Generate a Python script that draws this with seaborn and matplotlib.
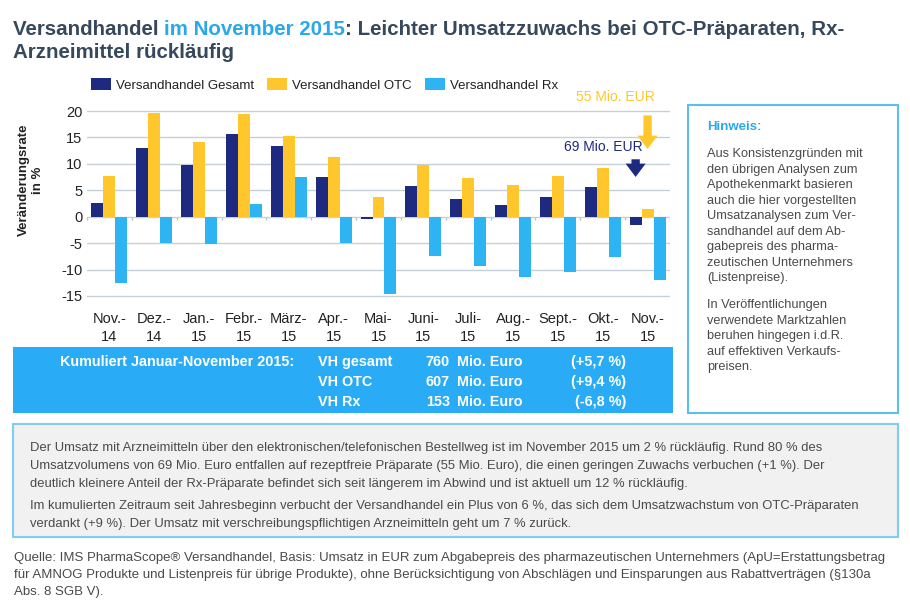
import matplotlib
matplotlib.use("Agg")
import matplotlib.pyplot as plt
import pandas as pd
import seaborn as sns
from matplotlib.patches import Rectangle

# Monatsdaten: Veränderungsrate in %
months = ["Nov.-\n14", "Dez.-\n14", "Jan.-\n15", "Febr.-\n15", "März-\n15", "Apr.-\n15",
          "Mai-\n15", "Juni-\n15", "Juli-\n15", "Aug.-\n15", "Sept.-\n15", "Okt.-\n15", "Nov.-\n15"]
gesamt = [2.6, 13.1, 9.7, 15.6, 13.4, 7.5, -0.4, 5.8, 3.3, 2.3, 3.7, 5.6, -1.5]
otc = [7.8, 19.6, 14.2, 19.4, 15.2, 11.3, 3.7, 9.8, 7.3, 6.0, 7.7, 9.2, 1.5]
rx = [-12.5, -4.9, -5.2, 2.5, 7.5, -4.9, -14.6, -7.5, -9.4, -11.5, -10.4, -7.7, -12.0]
series = ["Versandhandel Gesamt", "Versandhandel OTC", "Versandhandel Rx"]
yticks = [-15, -10, -5, 0, 5, 10, 15, 20]

# Kumulierte Werte Jan-Nov 2015
cum_labels = ["VH gesamt", "VH OTC", "VH Rx"]
cum_values = [760, 607, 153]
cum_changes = ["(+5,7 %)", "(+9,4 %)", "(-6,8 %)"]

# Umsatz im aktuellen Monat
current_eur = {"Versandhandel Gesamt": "69 Mio. EUR",
               "Versandhandel OTC": "55 Mio. EUR",
               "Versandhandel Rx": "14 Mio. EUR"}

NAVY = "#1e2a80"
YELLOW = "#ffc72c"
LIGHTBLUE = "#2fb4f3"
TITLE = "#36485c"
TITLE_BLUE = "#2aa8ec"
GREY_TXT = "#4a4a4a"

df = pd.DataFrame({
    "Monat": months * 3,
    "Serie": [series[0]] * len(months) + [series[1]] * len(months) + [series[2]] * len(months),
    "Wert": gesamt + otc + rx,
})

sns.set_theme(style="white")
plt.rcParams["font.family"] = ["Liberation Sans", "DejaVu Sans"]
plt.rcParams["axes.unicode_minus"] = False

W, H = 910, 609
fig = plt.figure(figsize=(W / 100, H / 100), dpi=100)
fig.patch.set_facecolor("white")


def fx(px):
    return px / W


def fy(py):
    return 1 - py / H


ax = fig.add_axes([fx(87), fy(306.5), fx(670 - 87), (306.5 - 105.8) / H])
sns.barplot(data=df, x="Monat", y="Wert", hue="Serie", hue_order=series,
            palette=[NAVY, YELLOW, LIGHTBLUE], saturation=1, width=0.8,
            linewidth=0, ax=ax)
handles, labels = ax.get_legend_handles_labels()
ax.get_legend().remove()

ax.set_ylim(-17, 21)
ax.set_xlim(-0.5, len(months) - 0.5)
ax.set_yticks(yticks)
ax.yaxis.grid(True, color="#c6d0d8", lw=1)
ax.set_axisbelow(True)
for s in ax.spines.values():
    s.set_visible(False)
ax.tick_params(axis="both", length=0, labelsize=10.5, colors="#222222")
ax.tick_params(axis="x", pad=4)
for lab in ax.get_xticklabels():
    lab.set_linespacing(1.35)
ax.set_xlabel("")
ax.set_ylabel("")
ax.set_facecolor("white")

# kleine Trennstriche an der Nulllinie zwischen den Monaten
ax.vlines([i - 0.5 for i in range(len(months) + 1)], -0.6, 0, color="#b8c2ca", lw=1, zorder=0.5)

fig.text(fx(31), fy(180), "Veränderungsrate\nin %", rotation=90, ha="center", va="center",
         fontsize=9.5, fontweight="bold", color="#222222", multialignment="center")

# Annotationen zum aktuellen Monat
last = len(months) - 1
off = 0.8 / 3
ax.annotate(current_eur[series[1]], xy=(last + 0.15, 22.7), ha="right", va="center",
            fontsize=10, color=YELLOW, annotation_clip=False)
ax.annotate("", xy=(last, 12.3), xytext=(last, 19.7), annotation_clip=False,
            arrowprops=dict(arrowstyle="simple,head_width=1.2,head_length=0.8,tail_width=0.5",
                            color=YELLOW, lw=0))
ax.annotate(current_eur[series[0]], xy=(last - 0.1, 13.2), ha="right", va="center",
            fontsize=10, color=NAVY)
ax.annotate("", xy=(last - off, 7.0), xytext=(last - off, 11.4),
            arrowprops=dict(arrowstyle="simple,head_width=1.2,head_length=0.8,tail_width=0.5",
                            color=NAVY, lw=0))
ax.annotate(current_eur[series[2]], xy=(last + 0.52, -13.9), ha="right", va="center",
            fontsize=10, color=LIGHTBLUE)

# Legende
fig.legend(handles, labels, loc="center left", bbox_to_anchor=(fx(79), fy(85)), ncol=3,
           frameon=False, fontsize=9.5, handlelength=1.5, handleheight=1.0,
           handletextpad=0.4, columnspacing=1.0, labelcolor="#222222")

# Titel in mehreren Farben
tsize = 14.8
t1 = fig.text(fx(13), fy(35), "Versandhandel ", fontsize=tsize, fontweight="bold",
              color=TITLE, va="baseline")
t2 = ax.annotate("im November 2015", xy=(1, 0), xycoords=t1, va="bottom", ha="left",
                 fontsize=tsize, fontweight="bold", color=TITLE_BLUE, annotation_clip=False)
ax.annotate(": Leichter Umsatzzuwachs bei OTC-Präparaten, Rx-", xy=(1, 0), xycoords=t2,
            va="bottom", ha="left", fontsize=tsize, fontweight="bold", color=TITLE,
            annotation_clip=False)
fig.text(fx(13), fy(58), "Arzneimittel rückläufig", fontsize=tsize, fontweight="bold",
         color=TITLE, va="baseline")

# Kumuliert-Tabelle
fig.add_artist(Rectangle((fx(13), fy(413)), fx(673 - 13), (413 - 347) / H,
                         transform=fig.transFigure, facecolor="#2aabf5", edgecolor="none"))
tkw = dict(fontsize=10.4, fontweight="bold", color="white", va="center")
fig.text(fx(60), fy(362), "Kumuliert Januar-November 2015:", **tkw)
for i in range(len(cum_labels)):
    yy = fy(362 + 20 * i)
    fig.text(fx(318), yy, cum_labels[i], **tkw)
    fig.text(fx(450), yy, str(cum_values[i]), ha="right", **tkw)
    fig.text(fx(457), yy, "Mio. Euro", **tkw)
    fig.text(fx(626), yy, cum_changes[i], ha="right", **tkw)

# Hinweis-Kasten
fig.add_artist(Rectangle((fx(688), fy(413)), fx(898 - 688), (413 - 105) / H,
                         transform=fig.transFigure, facecolor="white", edgecolor="#5cc0ee", lw=1.5))
fig.text(fx(707), fy(127), "Hinweis:", fontsize=9.5, fontweight="bold", color=TITLE_BLUE, va="center")
hint1 = ("Aus Konsistenzgründen mit\nden übrigen Analysen zum\nApothekenmarkt basieren\n"
         "auch die hier vorgestellten\nUmsatzanalysen zum Ver-\nsandhandel auf dem Ab-\n"
         "gabepreis des pharma-\nzeutischen Unternehmers\n(Listenpreise).")
hint2 = ("In Veröffentlichungen\nverwendete Marktzahlen\nberuhen hingegen i.d.R.\n"
         "auf effektiven Verkaufs-\npreisen.")
fig.text(fx(707), fy(148), hint1, fontsize=9.2, color=GREY_TXT, va="top", linespacing=1.39)
fig.text(fx(707), fy(299), hint2, fontsize=9.2, color=GREY_TXT, va="top", linespacing=1.39)

# Kommentar-Kasten
fig.add_artist(Rectangle((fx(13), fy(537)), fx(898 - 13), (537 - 424) / H,
                         transform=fig.transFigure, facecolor="#f1f1f1", edgecolor="#7fcdf0", lw=1.5))
body1 = ("Der Umsatz mit Arzneimitteln über den elektronischen/telefonischen Bestellweg ist im November 2015 "
         "um 2 % rückläufig. Rund 80 % des\nUmsatzvolumens von 69 Mio. Euro entfallen auf rezeptfreie "
         "Präparate (55 Mio. Euro), die einen geringen Zuwachs verbuchen (+1 %). Der\ndeutlich kleinere "
         "Anteil der Rx-Präparate befindet sich seit längerem im Abwind und ist aktuell um 12 % rückläufig.")
body2 = ("Im kumulierten Zeitraum seit Jahresbeginn verbucht der Versandhandel ein Plus von 6 %, das sich "
         "dem Umsatzwachstum von OTC-Präparaten\nverdankt (+9 %). Der Umsatz mit verschreibungspflichtigen "
         "Arzneimitteln geht um 7 % zurück.")
fig.text(fx(30), fy(442), body1, fontsize=9.35, color=GREY_TXT, va="top", linespacing=1.64)
fig.text(fx(30), fy(500), body2, fontsize=9.35, color=GREY_TXT, va="top", linespacing=1.64)

# Quelle
source = ("Quelle: IMS PharmaScope® Versandhandel, Basis: Umsatz in EUR zum Abgabepreis des pharmazeutischen "
          "Unternehmers (ApU=Erstattungsbetrag\nfür AMNOG Produkte und Listenpreis für übrige Produkte), ohne "
          "Berücksichtigung von Abschlägen und Einsparungen aus Rabattverträgen (§130a\nAbs. 8 SGB V).")
fig.text(fx(14), fy(552), source, fontsize=9.55, color=GREY_TXT, va="top", linespacing=1.55)

fig.savefig("out.png", dpi=100)
